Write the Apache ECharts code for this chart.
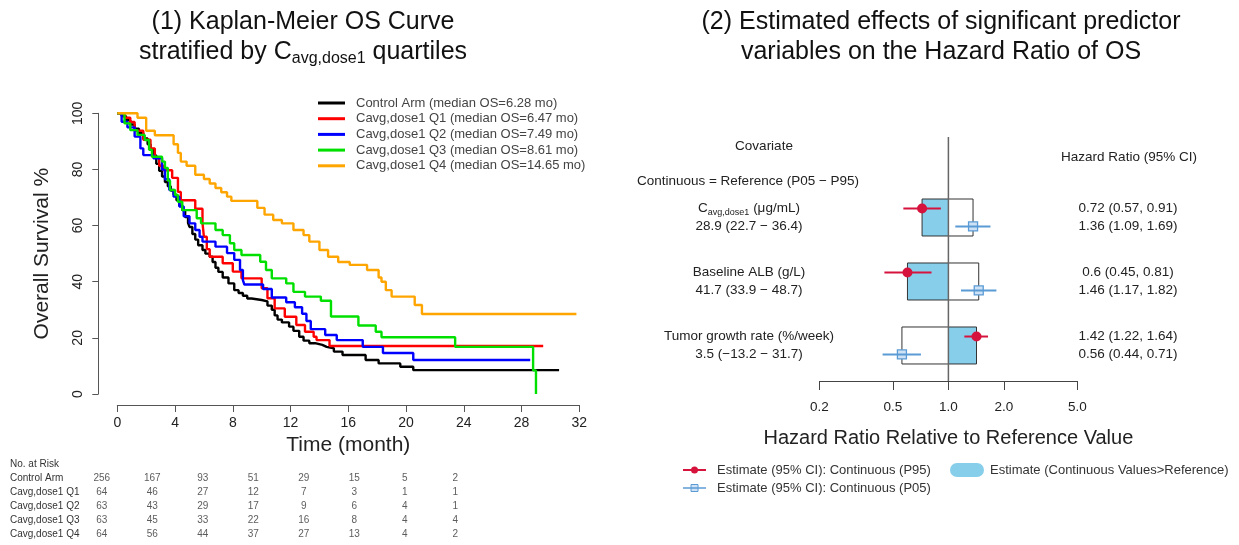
<!DOCTYPE html>
<html><head><meta charset="utf-8">
<script src="https://cdn.jsdelivr.net/npm/echarts@6/dist/echarts.min.js"></script>
<style>html,body{margin:0;padding:0;background:#fff}#c{width:1239px;height:545px}</style>
</head><body><div id="c"></div>
<script>
// ---------------- Data: Kaplan-Meier curves [time (month), survival %] ----------------
const seriesNames = [
  'Control Arm (median OS=6.28 mo)',
  'Cavg,dose1 Q1 (median OS=6.47 mo)',
  'Cavg,dose1 Q2 (median OS=7.49 mo)',
  'Cavg,dose1 Q3 (median OS=8.61 mo)',
  'Cavg,dose1 Q4 (median OS=14.65 mo)'
];
const controlArm = [[0,100],[0.3,99],[0.6,97.5],[0.9,96],[1.2,94.5],[1.5,93],[1.8,91],[2.1,89],[2.3,87],[2.5,85],[2.7,82],[2.9,79.5],[3.1,77.5],[3.3,75.5],[3.5,74],[3.7,72.5],[3.9,71],[4.1,69],[4.3,67],[4.5,65.5],[4.7,63],[4.9,61],[5.0,59.5],[5.2,57],[5.4,55],[5.6,53],[5.9,51.3],[6.1,50],[6.4,48.9],[6.6,47],[6.8,45],[7.0,43.5],[7.3,41.5],[7.7,39.4],[8.1,37],[8.4,36],[8.7,35],[9.0,34],[9.3,33.5],[10.0,33],[10.4,31.5],[10.7,30],[10.9,28],[11.1,26.5],[11.4,25.5],[11.9,24],[12.2,22.5],[12.6,20.4],[12.9,19],[13.3,18.1],[13.7,17.5],[14.2,16.8],[14.5,16.3],[15.0,15.1],[15.6,13.9],[17.2,12.1],[18.1,10.9],[19.6,9.7],[20.5,8.5],[30.6,8.5]];
const cavgQ1 = [[0,100],[0.5,98.4],[0.9,96.9],[1.2,93.8],[1.8,90.6],[2.3,87.5],[2.6,84.4],[2.9,81.3],[3.2,79.7],[3.8,77],[4.2,72],[4.4,69],[5.4,66],[5.9,61],[6.0,56],[6.2,51.6],[6.4,48.9],[7.3,46.6],[8.0,43.6],[8.6,41.2],[10.0,37.7],[10.4,34.1],[10.9,30.5],[11.6,27.5],[12.4,24.6],[13.0,22.2],[13.6,20.4],[13.8,19.2],[14.7,17.1],[29.5,17.1]];
const cavgQ2 = [[0,100],[0.3,97],[0.7,95],[1.2,91.7],[1.6,87.5],[1.8,85.1],[2.5,84],[3.1,80],[3.3,76.5],[3.6,72.7],[3.9,70.3],[4.3,66.8],[4.6,63.3],[5.0,60.8],[5.4,58.4],[5.7,56],[5.9,54.3],[6.8,52.5],[7.6,50.2],[8.1,47.8],[8.5,44.2],[8.7,40.6],[8.8,39],[10.1,37.4],[10.7,34.4],[11.7,32.7],[12.3,30.9],[12.8,28.6],[13.1,26],[13.4,23.1],[14.4,21],[15.2,19.2],[17.0,16.8],[18.4,14.6],[20.5,12.1],[28.6,12.1]];
const cavgQ3 = [[0,100],[0.5,96.4],[0.9,94],[1.4,92.3],[1.9,90.5],[2.2,87],[2.4,84.5],[3.1,82.8],[3.3,80.5],[3.5,76],[3.65,72.7],[4.0,70.9],[4.2,68.5],[4.5,65.5],[5.5,62.6],[5.8,60.8],[6.8,58.4],[7.3,56.6],[7.8,53.7],[8.1,51.3],[8.6,49.5],[9.9,47.1],[10.3,44.2],[10.7,41.2],[11.7,39.4],[12.2,36.4],[13.0,34.7],[14.1,33.2],[14.8,27.6],[16.7,24.4],[17.9,22.2],[18.3,20.2],[23.4,16.8],[28.8,8.4],[29.0,0]];
const cavgQ4 = [[0,100],[1.4,98.4],[2.0,93.8],[2.6,92.2],[3.9,89],[4.2,85.9],[4.4,82.8],[4.8,81.3],[5.4,78.1],[6.0,76.6],[6.4,75],[6.8,73.4],[7.2,71.9],[7.6,70.3],[7.9,68.8],[9.7,66.3],[10.2,63.9],[10.8,62],[11.4,60.8],[12.2,58.4],[12.9,56.6],[13.3,54.3],[14.0,51.3],[14.6,48.9],[15.3,47],[16.1,46],[17.3,44.2],[18.1,41.5],[18.3,40],[18.6,37],[19.0,34.7],[20.6,31.7],[21.1,28.5],[31.8,28.5]];

// ---------------- Data: number at risk ----------------
const riskTimes = ['0','4','8','12','16','20','24','28'];
const riskRows = ['Control Arm','Cavg,dose1 Q1','Cavg,dose1 Q2','Cavg,dose1 Q3','Cavg,dose1 Q4'];
const riskControl = [256,167,93,51,29,15,5,2];
const riskQ1 = [64,46,27,12,7,3,1,1];
const riskQ2 = [63,43,29,17,9,6,4,1];
const riskQ3 = [63,45,33,22,16,8,4,4];
const riskQ4 = [64,56,44,37,27,13,4,2];

// ---------------- Data: forest plot ----------------
const covariateLabels = ['{n|C}{s|avg,dose1}{n| (μg/mL)}', 'Baseline ALB (g/L)', 'Tumor growth rate (%/week)'];
const covariateRanges = ['28.9 (22.7 − 36.4)', '41.7 (33.9 − 48.7)', '3.5 (−13.2 − 31.7)'];
const hrP95 = [0.72, 0.6, 1.42];
const loP95 = [0.57, 0.45, 1.22];
const hiP95 = [0.91, 0.81, 1.64];
const hrP05 = [1.36, 1.46, 0.56];
const loP05 = [1.09, 1.17, 0.44];
const hiP05 = [1.69, 1.82, 0.71];
const hrTicks = [0.2, 0.5, 1, 2, 5];

// ---------------- Styling ----------------
const FONT = 'Liberation Sans, Arial, Helvetica, sans-serif';
const kmColors = ['#000000', '#FF0000', '#0000FF', '#00E000', '#FFA500'];
const RED = '#D6133C', BLUE = '#5B9BD5', FILL = '#87CEEB';
const TXT = '#222';

const chart = echarts.init(document.getElementById('c'), null, {renderer: 'canvas'});

const kmData = [controlArm, cavgQ1, cavgQ2, cavgQ3, cavgQ4];
const riskData = [riskControl, riskQ1, riskQ2, riskQ3, riskQ4];

const kmSeries = kmData.map((d, i) => ({
  name: seriesNames[i], type: 'line', step: 'end', data: d,
  xAxisIndex: 0, yAxisIndex: 0, showSymbol: false, symbol: 'none',
  lineStyle: {color: kmColors[i], width: 2.4}, itemStyle: {color: kmColors[i]},
  z: 2 + i, animation: false
}));

const riskPoints = [];
riskData.forEach((row, r) => row.forEach((v, c) => riskPoints.push([c, r, v])));

// forest rows: covariate i sits at y = -i; P95 row slightly above, P05 row slightly below
const HALF = 0.289, OFF = 0.14;

const boxSeries = {
  type: 'custom', xAxisIndex: 1, yAxisIndex: 1, z: 2,
  data: hrP95.map((v, i) => [v, hrP05[i], -i]),
  encode: {x: [0, 1], y: 2},
  renderItem: (params, api) => {
    const yc = api.value(2);
    const a = api.coord([api.value(0), yc + HALF]);
    const ref = api.coord([1, yc - HALF]);
    const c = api.coord([api.value(1), yc - HALF]);
    return {type: 'group', children: [
      {type: 'rect', shape: {x: Math.min(a[0], ref[0]), y: a[1], width: Math.abs(ref[0] - a[0]), height: ref[1] - a[1]}, style: {fill: FILL}},
      {type: 'rect', shape: {x: Math.min(a[0], c[0]), y: a[1], width: Math.abs(c[0] - a[0]), height: c[1] - a[1]}, style: {fill: 'none', stroke: '#333', lineWidth: 1}}
    ]};
  }
};

const refLine = {
  type: 'line', xAxisIndex: 1, yAxisIndex: 1, z: 3, symbol: 'none', silent: true,
  data: [[1, 1.258], [1, -2.555]], lineStyle: {color: '#666', width: 1.5}, animation: false
};

function ciSeries(lo, hi, hr, dy, kind) {
  return {
    type: 'custom', xAxisIndex: 1, yAxisIndex: 1, z: 4,
    data: hr.map((v, i) => [lo[i], hi[i], v, -i + dy]),
    encode: {x: [0, 1, 2], y: 3},
    renderItem: (params, api) => {
      const y = api.value(3);
      const p1 = api.coord([api.value(0), y]);
      const p2 = api.coord([api.value(1), y]);
      const pt = api.coord([api.value(2), y]);
      const col = kind === 'p95' ? RED : BLUE;
      const line = {type: 'line', shape: {x1: p1[0], y1: p1[1], x2: p2[0], y2: p2[1]}, style: {stroke: col, lineWidth: 2}};
      const mark = kind === 'p95'
        ? {type: 'circle', shape: {cx: pt[0], cy: pt[1], r: 5}, style: {fill: col}}
        : {type: 'rect', shape: {x: pt[0] - 4.5, y: pt[1] - 4.5, width: 9, height: 9}, style: {fill: '#cfe2f5', stroke: col, lineWidth: 1.3}};
      return {type: 'group', children: kind === 'p95' ? [line, mark] : [mark, line]};
    }
  };
}

const textSeries = {
  type: 'custom', xAxisIndex: 1, yAxisIndex: 1, z: 5, silent: true,
  data: hrP95.map((v, i) => [1, -i]),
  encode: {x: 0, y: 1},
  renderItem: (params, api) => {
    const i = params.dataIndex;
    const yc = api.value(1);
    const y1 = api.coord([1, yc + OFF])[1];
    const y2 = api.coord([1, yc - OFF])[1];
    const base = {fontSize: 13.5, fontFamily: FONT, fill: TXT, verticalAlign: 'middle'};
    return {type: 'group', children: [
      {type: 'text', style: Object.assign({}, base, {x: 749, y: y1, align: 'center', text: covariateLabels[i],
        rich: {n: {fontSize: 13.5, fontFamily: FONT, fill: TXT, verticalAlign: 'middle', lineHeight: 16}, s: {fontSize: 9, fontFamily: FONT, fill: TXT, verticalAlign: 'bottom', lineHeight: 16}}})},
      {type: 'text', style: Object.assign({}, base, {x: 749, y: y2, align: 'center', text: covariateRanges[i]})},
      {type: 'text', style: Object.assign({}, base, {x: 1128, y: y1, align: 'center', text: `${hrP95[i]} (${loP95[i]}, ${hiP95[i]})`})},
      {type: 'text', style: Object.assign({}, base, {x: 1128, y: y2, align: 'center', text: `${hrP05[i]} (${loP05[i]}, ${hiP05[i]})`})}
    ]};
  }
};

const option = {
  backgroundColor: '#fff',
  animation: false,
  textStyle: {fontFamily: FONT},
  grid: [
    {left: 117.3, top: 113.3, width: 462, height: 280.7},
    {left: 819.4, top: 137, width: 258, height: 244},
    {left: 76.5, top: 471, width: 404, height: 70}
  ],
  xAxis: [
    {gridIndex: 0, type: 'value', min: 0, max: 32, interval: 4, offset: 11,
     splitLine: {show: false},
     axisLine: {show: true, onZero: false, lineStyle: {color: '#555', width: 1}},
     axisTick: {show: true, length: 7, lineStyle: {color: '#555'}},
     axisLabel: {fontSize: 14, color: TXT, margin: 11, fontFamily: FONT},
     name: 'Time (month)', nameLocation: 'middle', nameGap: 30,
     nameTextStyle: {fontSize: 21, color: TXT, fontFamily: FONT}},
    {gridIndex: 1, type: 'log', logBase: 10, min: 0.2, max: 5, position: 'bottom',
     splitLine: {show: false},
     axisLine: {show: true, onZero: false, lineStyle: {color: '#444', width: 1}},
     axisTick: {show: true, length: 9, customValues: hrTicks, lineStyle: {color: '#444'}},
     axisLabel: {fontSize: 13.5, color: TXT, margin: 19, customValues: hrTicks, fontFamily: FONT,
       formatter: v => Number(v).toFixed(1)},
     minorTick: {show: false},
     name: 'Hazard Ratio Relative to Reference Value', nameLocation: 'middle', nameGap: 47,
     nameTextStyle: {fontSize: 20, color: TXT, fontFamily: FONT}},
    {gridIndex: 2, type: 'category', data: riskTimes, show: false}
  ],
  yAxis: [
    {gridIndex: 0, type: 'value', min: 0, max: 100, interval: 20, offset: 19,
     splitLine: {show: false},
     axisLine: {show: true, onZero: false, lineStyle: {color: '#555', width: 1}},
     axisTick: {show: true, length: 6, lineStyle: {color: '#555'}},
     axisLabel: {fontSize: 14, color: TXT, margin: 13, rotate: 90, fontFamily: FONT},
     name: 'Overall Survival %', nameLocation: 'middle', nameGap: 46,
     nameTextStyle: {fontSize: 21, color: TXT, fontFamily: FONT}},
    {gridIndex: 1, type: 'value', min: -2.555, max: 1.258, show: false},
    {gridIndex: 2, type: 'category', data: riskRows, inverse: true,
     axisLine: {show: false}, axisTick: {show: false},
     axisLabel: {align: 'left', margin: 66.5, fontSize: 10, color: '#333', fontFamily: FONT}}
  ],
  legend: {
    left: 318, top: 96, orient: 'vertical', padding: 0, itemGap: 1.7,
    itemWidth: 27, itemHeight: 3, icon: 'rect',
    data: seriesNames,
    textStyle: {fontSize: 13, color: '#444', lineHeight: 14, padding: [0, 0, 0, 6], fontFamily: FONT},
    selectedMode: false
  },
  series: [
    ...kmSeries,
    {type: 'scatter', xAxisIndex: 2, yAxisIndex: 2, data: riskPoints, symbolSize: 1,
     itemStyle: {color: 'rgba(0,0,0,0)'}, silent: true,
     label: {show: true, position: 'inside', formatter: p => p.value[2], fontSize: 10, color: '#333', fontFamily: FONT}},
    boxSeries,
    refLine,
    ciSeries(loP05, hiP05, hrP05, -OFF, 'p05'),
    ciSeries(loP95, hiP95, hrP95, OFF, 'p95'),
    textSeries
  ],
  graphic: [
    {type: 'text', silent: true, style: {x: 303, y: 37, align: 'center', verticalAlign: 'middle', fill: '#111', fontFamily: FONT,
      text: '{t|(1) Kaplan-Meier OS Curve}\n{t|stratified by C}{s|avg,dose1}{t| quartiles}',
      rich: {t: {fontSize: 25, lineHeight: 30, verticalAlign: 'middle', fontFamily: FONT, fill: '#111'},
             s: {fontSize: 16, lineHeight: 30, verticalAlign: 'bottom', fontFamily: FONT, fill: '#111'}}}},
    {type: 'text', silent: true, style: {x: 941, y: 37, align: 'center', verticalAlign: 'middle', fill: '#111', fontFamily: FONT,
      fontSize: 25, lineHeight: 30,
      text: '(2) Estimated effects of significant predictor\nvariables on the Hazard Ratio of OS'}},
    {type: 'text', silent: true, style: {x: 10, y: 464, verticalAlign: 'middle', fill: '#333', fontFamily: FONT, fontSize: 10, text: 'No. at Risk'}},
    {type: 'text', silent: true, style: {x: 764, y: 146, align: 'center', verticalAlign: 'middle', fill: TXT, fontFamily: FONT, fontSize: 13.5, text: 'Covariate'}},
    {type: 'text', silent: true, style: {x: 1129, y: 157, align: 'center', verticalAlign: 'middle', fill: TXT, fontFamily: FONT, fontSize: 13.5, text: 'Hazard Ratio (95% CI)'}},
    {type: 'text', silent: true, style: {x: 748, y: 181, align: 'center', verticalAlign: 'middle', fill: TXT, fontFamily: FONT, fontSize: 13.5, text: 'Continuous = Reference (P05 − P95)'}},
    // bottom-right legend
    {type: 'line', silent: true, shape: {x1: 683, y1: 470, x2: 706, y2: 470}, style: {stroke: RED, lineWidth: 2}},
    {type: 'circle', silent: true, shape: {cx: 694.5, cy: 470, r: 3.5}, style: {fill: RED}},
    {type: 'text', silent: true, style: {x: 717, y: 470, verticalAlign: 'middle', fill: '#333', fontFamily: FONT, fontSize: 13, text: 'Estimate (95% CI): Continuous (P95)'}},
    {type: 'rect', silent: true, shape: {x: 691, y: 484.5, width: 7, height: 7}, style: {fill: '#cfe2f5', stroke: BLUE, lineWidth: 1}},
    {type: 'line', silent: true, shape: {x1: 683, y1: 488, x2: 706, y2: 488}, style: {stroke: BLUE, lineWidth: 1.5}},
    {type: 'text', silent: true, style: {x: 717, y: 488, verticalAlign: 'middle', fill: '#333', fontFamily: FONT, fontSize: 13, text: 'Estimate (95% CI): Continuous (P05)'}},
    {type: 'rect', silent: true, shape: {x: 950, y: 463, width: 34, height: 14, r: 7}, style: {fill: FILL}},
    {type: 'text', silent: true, style: {x: 990, y: 470, verticalAlign: 'middle', fill: '#333', fontFamily: FONT, fontSize: 13, text: 'Estimate (Continuous Values>Reference)'}}
  ]
};
chart.setOption(option);
</script>
</body></html>
